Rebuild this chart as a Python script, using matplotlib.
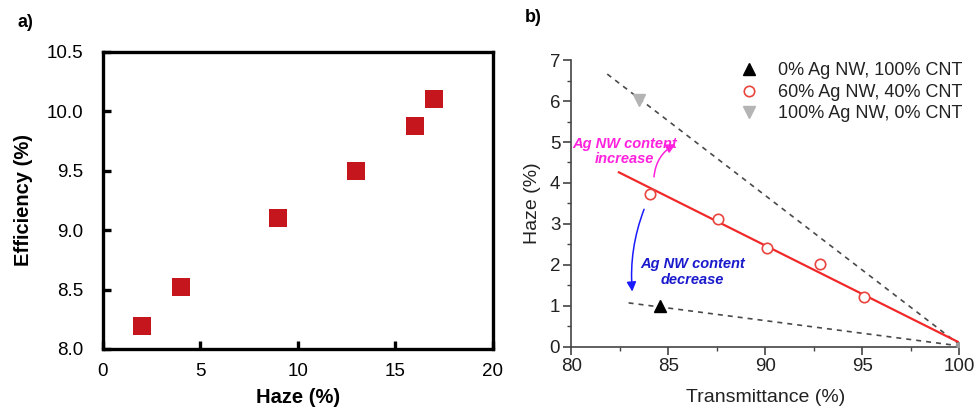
import matplotlib
matplotlib.use("Agg")
import matplotlib.pyplot as plt
from matplotlib.ticker import MultipleLocator

plt.rcParams['font.family'] = ['Liberation Sans', 'DejaVu Sans']

# panel a: efficiency vs haze
haze_a = [2.0, 4.0, 9.0, 13.0, 16.0, 17.0]
eff_a = [8.19, 8.52, 9.10, 9.50, 9.88, 10.10]

# panel b: haze vs transmittance
trans_cnt = [84.55]
haze_cnt = [0.99]
trans_mix = [84.05, 87.55, 90.1, 92.8, 95.1]
haze_mix = [3.74, 3.13, 2.42, 2.02, 1.22]
trans_ag = [83.5]
haze_ag = [6.02]
end_x = [100.0]
end_y = [0.05]

# guide lines
fit_x = [82.45, 100.0]
fit_y = [4.26, 0.10]
upper_x = [81.85, 100.0]
upper_y = [6.66, 0.05]
lower_x = [82.95, 100.0]
lower_y = [1.07, 0.02]

fig = plt.figure(figsize=(9.75, 4.12), dpi=100)

# ---- panel a
ax1 = fig.add_axes([0.1056, 0.153, 0.4, 0.721])
ax1.scatter(haze_a, eff_a, marker='s', s=175, color='#c4161c', linewidths=0, zorder=3)
ax1.set_xlim(0, 20)
ax1.set_ylim(8.0, 10.5)
ax1.xaxis.set_major_locator(MultipleLocator(5))
ax1.yaxis.set_major_locator(MultipleLocator(0.5))
ax1.yaxis.set_major_formatter(matplotlib.ticker.FormatStrFormatter('%.1f'))
for s in ax1.spines.values():
    s.set_linewidth(2.4)
ax1.tick_params(direction='in', length=6, width=2.4, labelsize=13.5, colors='black')
ax1.tick_params(axis='x', pad=10)
ax1.tick_params(axis='y', pad=14)
ax1.set_xlabel('Haze (%)', fontsize=14.5, fontweight='bold', labelpad=6)
ax1.set_ylabel('Efficiency (%)', fontsize=14.5, fontweight='bold', labelpad=10)
fig.text(0.018, 0.945, 'a)', fontsize=13, fontweight='bold', va='center')

# ---- panel b
ax2 = fig.add_axes([0.586, 0.1585, 0.398, 0.6955])
ax2.plot(upper_x, upper_y, ls='--', color='#4a4a4a', lw=1.2, dashes=(3, 3), zorder=2)
ax2.plot(lower_x, lower_y, ls='--', color='#4a4a4a', lw=1.2, dashes=(3, 3), zorder=2)
ax2.plot(fit_x, fit_y, color='#f02a2a', lw=1.6, zorder=2)
ax2.plot(trans_cnt, haze_cnt, '^', color='black', ms=8, ls='none',
         label='0% Ag NW, 100% CNT', zorder=4)
ax2.plot(trans_mix, haze_mix, 'o', mfc='white', mec='#e8453e', mew=1.2, ms=7.5, ls='none',
         label='60% Ag NW, 40% CNT', zorder=4)
ax2.plot(trans_ag, haze_ag, 'v', color='#b4b4b4', ms=8, ls='none',
         label='100% Ag NW, 0% CNT', zorder=4)
ax2.plot(end_x, end_y, 'o', color='#9a9a9a', ms=4, ls='none', zorder=4)

ax2.set_xlim(80, 100)
ax2.set_ylim(0, 7)
ax2.xaxis.set_major_locator(MultipleLocator(5))
ax2.xaxis.set_minor_locator(MultipleLocator(2.5))
ax2.yaxis.set_major_locator(MultipleLocator(1))
ax2.yaxis.set_minor_locator(MultipleLocator(0.5))
ax2.spines['top'].set_visible(False)
ax2.spines['right'].set_visible(False)
for s in ('left', 'bottom'):
    ax2.spines[s].set_color('#444444')
    ax2.spines[s].set_linewidth(1.2)
ax2.tick_params(which='major', direction='out', length=6, width=1.2, color='#444444',
                labelsize=13.5, labelcolor='#222222', pad=2)
ax2.tick_params(which='minor', direction='out', length=3, width=1.0, color='#444444')
ax2.set_xlabel('Transmittance (%)', fontsize=14, color='#222222', labelpad=10)
ax2.set_ylabel('Haze (%)', fontsize=14, color='#222222', labelpad=6)

leg = ax2.legend(loc='upper right', bbox_to_anchor=(1.035, 1.03), frameon=False, fontsize=13,
                 handletextpad=0.6, labelspacing=0.25, borderaxespad=0.2, markerscale=1.0)
for t in leg.get_texts():
    t.set_color('#222222')

ax2.annotate('', xy=(85.5, 4.98), xytext=(84.25, 4.08),
             arrowprops=dict(arrowstyle='-|>', color='#ff22dd', lw=1.1,
                             connectionstyle='arc3,rad=-0.3', mutation_scale=14))
ax2.annotate('', xy=(83.15, 1.28), xytext=(83.8, 3.42),
             arrowprops=dict(arrowstyle='-|>', color='#1a1aff', lw=1.1,
                             connectionstyle='arc3,rad=0.12', mutation_scale=14))
ax2.text(82.75, 4.77, 'Ag NW content\nincrease', color='#ff22dd', fontsize=10.5,
         fontweight='bold', style='italic', ha='center', va='center', linespacing=1.15)
ax2.text(86.25, 1.83, 'Ag NW content\ndecrease', color='#1a1acc', fontsize=10.5,
         fontweight='bold', style='italic', ha='center', va='center', linespacing=1.15)
fig.text(0.538, 0.958, 'b)', fontsize=13, fontweight='bold', va='center')

fig.savefig('out.png', dpi=100)
